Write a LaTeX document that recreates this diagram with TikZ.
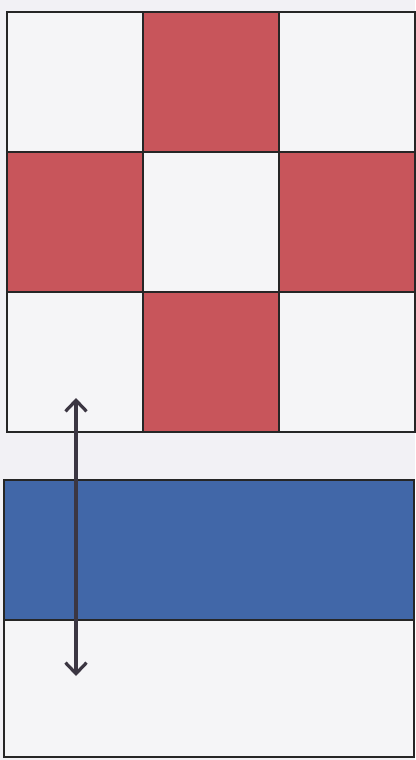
\documentclass[tikz,border=0pt]{standalone}
\usetikzlibrary{arrows.meta}

\definecolor{paper}{HTML}{F2F1F5}
\definecolor{cellwhite}{HTML}{F5F5F7}
\definecolor{cellred}{HTML}{C8555B}
\definecolor{bandblue}{HTML}{4167A8}
\definecolor{arrowgray}{HTML}{3B3642}

\tikzset{
  cell/.style={draw=black!85, line width=1.2pt},
  span/.style={arrowgray, line width=3.2pt,
    {Straight Barb[length=11pt, width=21pt, line width=3.2pt]}-{Straight Barb[length=11pt, width=21pt, line width=3.2pt]}}
}

\begin{document}
\begin{tikzpicture}[x=1pt, y=-1pt]

   \fill[paper] (0,0) rectangle (415,760);
   \useasboundingbox (0,0) rectangle (415,760);

   % checkered grid
   \foreach \c/\r/\col in {0/0/cellwhite, 1/0/cellred, 2/0/cellwhite,
                           0/1/cellred, 1/1/cellwhite, 2/1/cellred,
                           0/2/cellwhite, 1/2/cellred, 2/2/cellwhite}
     \filldraw[cell, fill=\col] ({7+136*\c},{12+140*\r}) rectangle ++(136,140);

   % band below
   \filldraw[cell, fill=bandblue] (4,480) rectangle (414,620);
   \filldraw[cell, fill=cellwhite] (4,620) rectangle (414,757);

   \coordinate (top) at (76,398);
   \coordinate (bot) at (76,676);
   \draw[span] (top) -- (bot);

\end{tikzpicture}
\end{document}
